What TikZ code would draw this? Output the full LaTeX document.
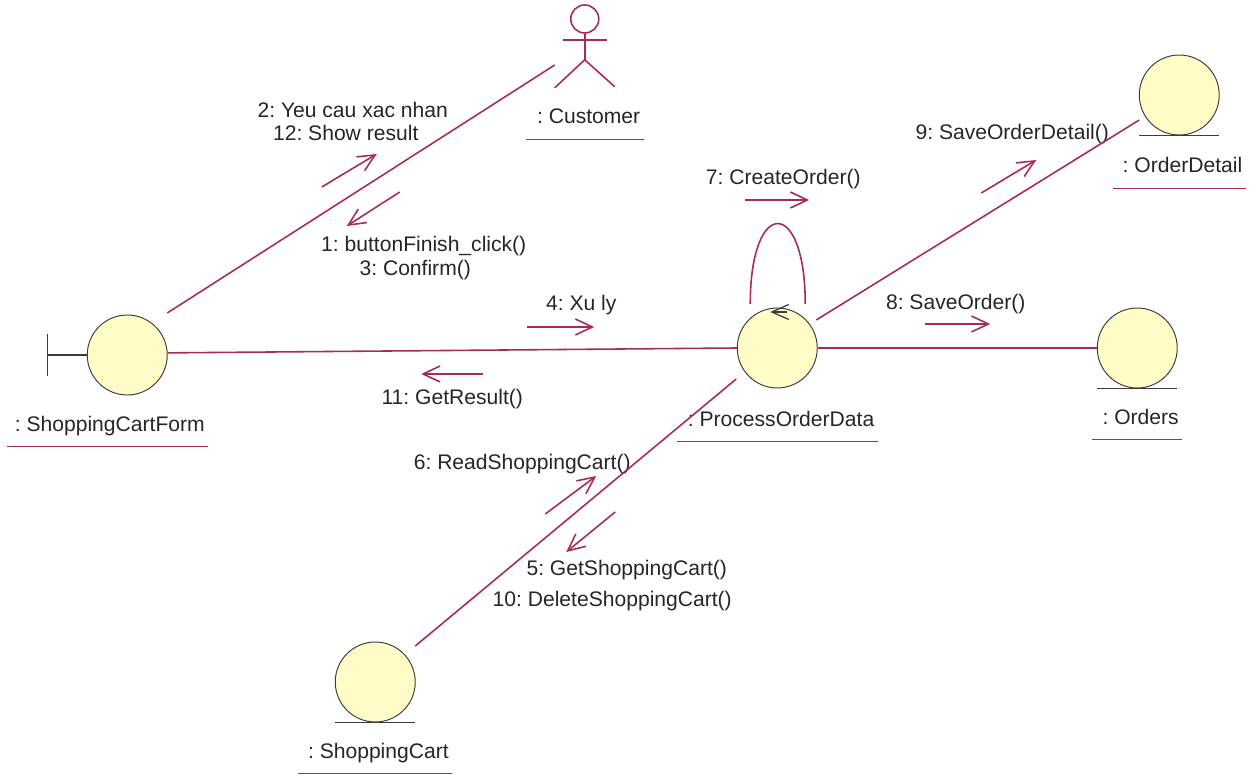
\documentclass[tikz,border=0pt]{standalone}
\usepackage{fontspec}
\setmainfont{Liberation Sans}
\usetikzlibrary{positioning,arrows.meta}
\definecolor{linkred}{HTML}{A82A58}
\definecolor{ballfill}{HTML}{FFFCC8}
\definecolor{ballline}{HTML}{3C3C3C}
\frenchspacing
\tikzset{
  ball/.style={circle,draw=ballline,fill=ballfill,line width=.55pt,minimum size=1.6cm,inner sep=0pt},
  assoc/.style={draw=linkred,line width=.9pt},
  msg/.style={assoc,-{Straight Barb[length=.34cm,width=.32cm]}},
  stroke/.style={draw=ballline,line width=.7pt},
  msgtext/.style={font=\fontsize{12}{14}\selectfont,text=black!85,text height=.3cm,text depth=0cm,inner sep=0pt},
  objname/.style={msgtext,text depth=.08cm,text width=#1,align=flush right,inner xsep=.06cm,inner ysep=.22cm,
    append after command={(\tikzlastnode.south west) edge[assoc] (\tikzlastnode.south east)}},
}
\begin{document}
\begin{tikzpicture}[on grid]
\useasboundingbox (0,0) rectangle (25.14,15.52);
\node[ball](form) at (2.545,8.42) {};
\node[ball, above right=.14cm and 13cm of form](process) {};
\node[ball, right=7.2cm of process](orders) {};
\node[ball, above right=5.06cm and 8.04cm of process](detail) {};
\node[ball, below left=6.68cm and 8.04cm of process](cart) {};
\node[circle, assoc, minimum size=.56cm, inner sep=0pt, above right=6.72cm and 9.15cm of form](customer) {};

\node[objname=3.88cm, below left=1.41cm and .39cm of form](formname) {: ShoppingCartForm};
\node[objname=2.22cm, below=1.99cm of customer](customername) {: Customer};
\node[objname=3.88cm, below=1.45cm of process](processname) {: ProcessOrderData};
\node[objname=1.66cm, below=1.41cm of orders](ordersname) {: Orders};
\node[objname=2.52cm, below=1.45cm of detail](detailname) {: OrderDetail};
\node[objname=2.94cm, below=1.41cm of cart](cartname) {: ShoppingCart};

\node[msgtext, above right=4.9cm and 4.51cm of form](m2) {2: Yeu cau xac nhan};
\node[msgtext, below left=.46cm and .14cm of m2](m12) {12: Show result};
\node[msgtext, above right=2.22cm and 5.93cm of form](m1) {1: buttonFinish\_click()};
\node[msgtext, below left=.48cm and .17cm of m1](m3) {3: Confirm()};
\node[msgtext, above left=.9cm and 3.92cm of process](m4) {4: Xu ly};
\node[msgtext, below left=.98cm and 6.5cm of process](m11) {11: GetResult()};
\node[msgtext, below left=2.28cm and 5.1cm of process](m6) {6: ReadShoppingCart()};
\node[msgtext, below left=4.4cm and 3.01cm of process](m5) {5: GetShoppingCart()};
\node[msgtext, below left=.62cm and .29cm of m5](m10) {10: DeleteShoppingCart()};
\node[msgtext, above right=3.42cm and .12cm of process](m7) {7: CreateOrder()};
\node[msgtext, above right=.92cm and 3.57cm of process](m8) {8: SaveOrder()};
\node[msgtext, above right=4.32cm and 4.7cm of process](m9) {9: SaveOrderDetail()};

\coordinate[above right=.84cm and .8cm of form](formup);
\coordinate[below left=.92cm and .6cm of customer](customerfoot);
\coordinate[above right=.56cm and .78cm of process](processup);
\coordinate[below left=.5cm and .8cm of detail](detailfoot);
\coordinate[below left=.62cm and .82cm of process](processdown);
\coordinate[above right=.72cm and .8cm of cart](cartup);
\coordinate[above left=.88cm and .54cm of process](loopa);
\coordinate[above right=.88cm and .56cm of process](loopb);
\coordinate[above right=.72cm and .2cm of process](tipa);
\coordinate[above left=.72cm and .14cm of process](tipb);

\coordinate[below left=1.08cm and .48cm of m12](a2);
\coordinate[below right=.42cm and .62cm of m12](b2);
\coordinate[above left=1.04cm and .48cm of m1](a1);
\coordinate[above left=.36cm and 1.54cm of m1](b1);
\coordinate[below left=.48cm and 1.08cm of m4](a4);
\coordinate[below right=.48cm and .26cm of m4](b4);
\coordinate[above right=.46cm and .62cm of m11](a11);
\coordinate[above left=.46cm and .62cm of m11](b11);
\coordinate[below right=1.04cm and .46cm of m6](a6);
\coordinate[below right=.28cm and 1.48cm of m6](b6);
\coordinate[above left=1.12cm and .23cm of m5](a5);
\coordinate[above left=.32cm and 1.21cm of m5](b5);
\coordinate[below left=.46cm and .76cm of m7](a7);
\coordinate[below right=.46cm and .52cm of m7](b7);
\coordinate[below left=.44cm and .61cm of m8](a8);
\coordinate[below right=.44cm and .69cm of m8](b8);
\coordinate[below left=1.22cm and .62cm of m9](a9);
\coordinate[below right=.56cm and .48cm of m9](b9);

\draw[assoc] (formup)--(customerfoot);
\draw[assoc] (form.3)--(process.west);
\draw[assoc] (process.east)--(orders.west);
\draw[assoc] (processup)--(detailfoot);
\draw[assoc] (processdown)--(cartup);
\draw[assoc] (loopa) to[out=90,in=90,looseness=5] (loopb);
\draw[msg] (a2)--(b2);
\draw[msg] (a1)--(b1);
\draw[msg] (a4)--(b4);
\draw[msg] (a11)--(b11);
\draw[msg] (a6)--(b6);
\draw[msg] (a5)--(b5);
\draw[msg] (a7)--(b7);
\draw[msg] (a8)--(b8);
\draw[msg] (a9)--(b9);
\draw[stroke,-{Straight Barb[length=.34cm,width=.3cm]}] (tipa)--(tipb);

\draw[stroke] ([xshift=-.8cm]cart.south)--([xshift=.8cm]cart.south);
\draw[stroke] ([xshift=-.8cm]orders.south)--([xshift=.8cm]orders.south);
\draw[stroke] ([xshift=-.8cm]detail.south)--([xshift=.8cm]detail.south);
\draw[stroke] (form.west)--++(-.78,0) coordinate(formbar);
\draw[stroke] ([yshift=.42cm]formbar)--([yshift=-.42cm]formbar);

\draw[assoc] (customer.south)--++(0,-.52) coordinate(hip);
\draw[assoc] ([yshift=-.12cm]customer.south)--++(-.44,0);
\draw[assoc] ([yshift=-.12cm]customer.south)--++(.44,0);
\draw[assoc] (hip)--++(-.6,-.56);
\draw[assoc] (hip)--++(.6,-.54);
\end{tikzpicture}
\end{document}
